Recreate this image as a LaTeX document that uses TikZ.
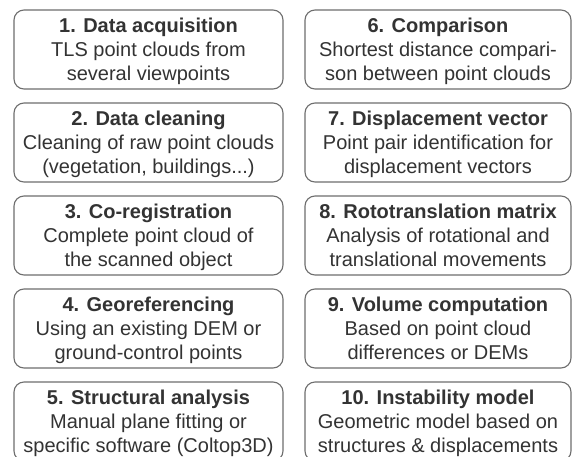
\documentclass[tikz,border=0pt]{standalone}
\usepackage{fontspec}
\setmainfont{Liberation Sans}
\definecolor{txt}{HTML}{333333}
\definecolor{frame}{HTML}{6E6E6E}
\newcommand{\topstrut}{\rule{0pt}{21.5pt}}
\begin{document}
\begin{tikzpicture}[x=1pt,y=1pt,
  stepbox/.style={draw=frame,line width=1.1pt,rounded corners=10pt,
    minimum width=269pt,minimum height=79pt,inner sep=0pt,
    align=center,text=txt,font=\fontsize{20}{24}\selectfont}]
\clip (0,0) rectangle (574,-456);
\fill[white] (0,0) rectangle (574,-456);
\foreach \i/\a/\b/\c in {
  1/{1. Data acquisition}/{TLS point clouds from}/{several viewpoints},
  2/{2. Data cleaning}/{Cleaning of raw point clouds}/{(vegetation, buildings...)},
  3/{3. Co-registration}/{Complete point cloud of}/{the scanned object},
  4/{4. Georeferencing}/{Using an existing DEM or}/{ground-control points},
  5/{5. Structural analysis}/{Manual plane fitting or}/{specific software (Coltop3D)}}{
  \node[stepbox] (b\i) at (148.5,{-49.5-93*(\i-1)}) {\topstrut\textbf{\a}\\\b\\\c\strut};
}
\foreach \i/\a/\b/\c in {
  6/{6. Comparison}/{Shortest distance compari-}/{son between point clouds},
  7/{7. Displacement vector}/{Point pair identification for}/{displacement vectors},
  8/{8. Rototranslation matrix}/{Analysis of rotational and}/{translational movements},
  9/{9. Volume computation}/{Based on point cloud}/{differences or DEMs},
  10/{10. Instability model}/{Geometric model based on}/{structures \& displacements}}{
  \node[stepbox,minimum width=266pt] (b\i) at (438,{-49.5-93*(\i-6)}) {\topstrut\textbf{\a}\\\b\\\c\strut};
}
\end{tikzpicture}
\end{document}
